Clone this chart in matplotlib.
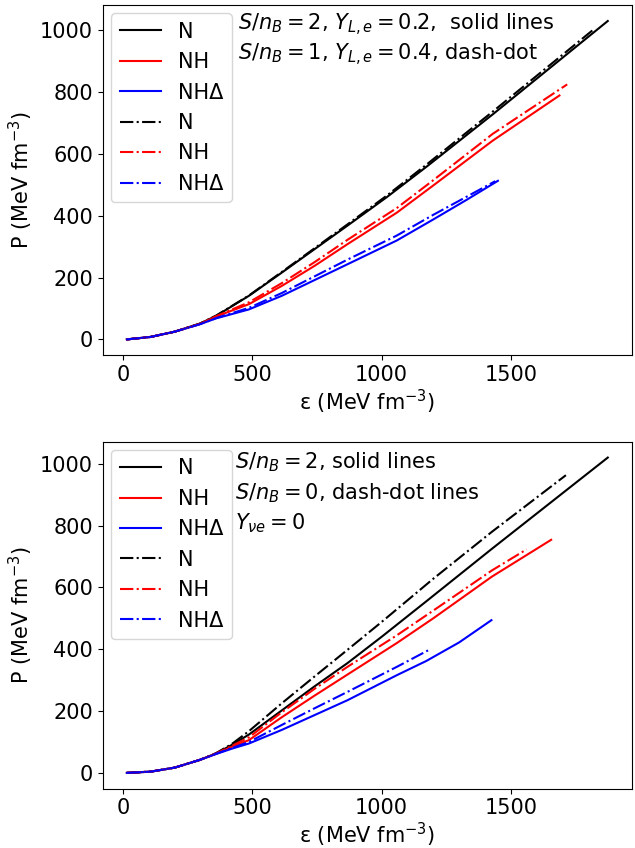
import numpy as np
import matplotlib
matplotlib.use("Agg")
import matplotlib.pyplot as plt

# ---- top panel: S/nB=2, YLe=0.2 (solid) and S/nB=1, YLe=0.4 (dash-dot)
e_N_a = [15, 107, 200, 297, 360, 487, 614, 741, 868, 1020, 1176, 1430, 1875]
p_N_a = [0, 8, 25, 51, 76, 141, 216, 292, 368, 460, 560, 728, 1030]
e_N_b = [15, 107, 200, 297, 360, 487, 614, 741, 868, 1020, 1176, 1430, 1825]
p_N_b = [0, 8, 25, 51, 77, 142, 218, 295, 372, 465, 567, 737, 1006]
e_NH_a = [15, 107, 200, 297, 360, 487, 614, 741, 868, 1059, 1200, 1430, 1688]
p_NH_a = [0, 8, 25, 50, 74, 114, 173, 238, 308, 410, 498, 643, 789]
e_NH_b = [15, 107, 200, 297, 360, 487, 614, 741, 868, 1059, 1200, 1430, 1718]
p_NH_b = [0, 8, 25, 50, 75, 120, 182, 250, 322, 425, 515, 665, 825]
e_ND_a = [15, 107, 200, 297, 360, 487, 614, 741, 868, 1059, 1200, 1330, 1450]
p_ND_a = [0, 8, 25, 49, 68, 97, 141, 192, 243, 320, 388, 452, 513]
e_ND_b = [15, 107, 200, 297, 360, 487, 614, 741, 868, 1059, 1200, 1330, 1440]
p_ND_b = [0, 8, 25, 49, 69, 102, 150, 204, 258, 336, 403, 462, 512]

# ---- bottom panel: S/nB=2 (solid) and S/nB=0 (dash-dot), Y_nu_e=0
e_N_c = [15, 107, 200, 297, 360, 420, 487, 614, 741, 868, 1000, 1173, 1427, 1875]
p_N_c = [0, 4, 17, 42, 63, 90, 124, 202, 280, 355, 440, 555, 725, 1020]
e_N_d = [15, 107, 200, 297, 360, 420, 487, 614, 741, 868, 1000, 1200, 1427, 1713]
p_N_d = [0, 4, 17, 42, 64, 93, 135, 225, 312, 398, 488, 628, 780, 963]
e_NH_c = [15, 107, 200, 297, 360, 420, 487, 614, 741, 868, 1059, 1200, 1427, 1656]
p_NH_c = [0, 4, 17, 42, 62, 84, 106, 180, 250, 318, 420, 500, 635, 754]
e_NH_d = [15, 107, 200, 297, 360, 420, 487, 614, 741, 868, 1059, 1200, 1427, 1561]
p_NH_d = [0, 4, 17, 42, 63, 87, 115, 196, 272, 343, 445, 525, 655, 723]
e_ND_c = [15, 107, 200, 297, 360, 420, 487, 614, 741, 868, 1059, 1173, 1300, 1425]
p_ND_c = [0, 4, 17, 42, 61, 78, 95, 139, 187, 235, 316, 362, 422, 494]
e_ND_d = [15, 107, 200, 297, 360, 420, 487, 614, 741, 868, 1059, 1186]
p_ND_d = [0, 4, 17, 42, 62, 80, 100, 155, 209, 262, 343, 399]

labels = ["N", "NH", "NH\u0394"]
colors = ["black", "red", "blue"]

plt.rcParams['font.size'] = 15
fig = plt.figure(figsize=(6.35, 8.48), dpi=100)
ax1 = fig.add_axes([0.162, 0.581, 0.833, 0.413])
ax2 = fig.add_axes([0.162, 0.070, 0.833, 0.409])

top = [(e_N_a, p_N_a), (e_NH_a, p_NH_a), (e_ND_a, p_ND_a)]
top_dd = [(e_N_b, p_N_b), (e_NH_b, p_NH_b), (e_ND_b, p_ND_b)]
bot = [(e_N_c, p_N_c), (e_NH_c, p_NH_c), (e_ND_c, p_ND_c)]
bot_dd = [(e_N_d, p_N_d), (e_NH_d, p_NH_d), (e_ND_d, p_ND_d)]

for ax, solid, dd in [(ax1, top, top_dd), (ax2, bot, bot_dd)]:
    for (x, y), c, l in zip(solid, colors, labels):
        ax.plot(x, y, color=c, lw=1.5, label=l)
    for (x, y), c, l in zip(dd, colors, labels):
        ax.plot(x, y, color=c, lw=1.5, ls='-.', label=l)
    ax.legend(loc='upper left', fontsize=15, borderaxespad=0.4)
    ax.set_xlabel("\u03b5 (MeV fm$^{-3}$)", labelpad=2)
    ax.set_ylabel("P (MeV fm$^{-3}$)")
    ax.set_xticks([0, 500, 1000, 1500])
    ax.set_yticks([0, 200, 400, 600, 800, 1000])

ax1.text(0.255, 0.943, "$S/n_B = 2$, $Y_{L,e} = 0.2$,  solid lines", transform=ax1.transAxes, va='center')
ax1.text(0.255, 0.857, "$S/n_B = 1$, $Y_{L,e} = 0.4$, dash-dot", transform=ax1.transAxes, va='center')
ax2.text(0.25, 0.94, "$S/n_B = 2$, solid lines", transform=ax2.transAxes, va='center')
ax2.text(0.25, 0.853, "$S/n_B = 0$, dash-dot lines", transform=ax2.transAxes, va='center')
ax2.text(0.25, 0.764, "$Y_{\\nu e} = 0$", transform=ax2.transAxes, va='center')

fig.savefig("out.png", dpi=100)
